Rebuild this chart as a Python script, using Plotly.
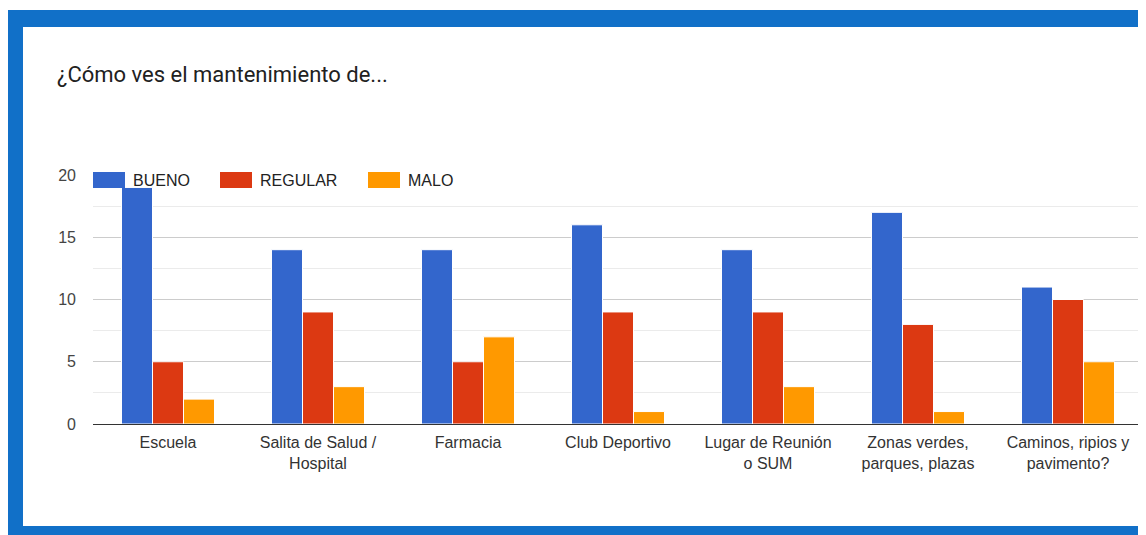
import plotly.graph_objects as go

categories = ["Escuela", "Salita de Salud /<br>Hospital", "Farmacia", "Club Deportivo",
              "Lugar de Reunión<br>o SUM", "Zonas verdes,<br>parques, plazas",
              "Caminos, ripios y<br>pavimento?"]
series_names = ["BUENO", "REGULAR", "MALO"]
bueno = [19, 14, 14, 16, 14, 17, 11]
regular = [5, 9, 5, 9, 9, 8, 10]
malo = [2, 3, 7, 1, 3, 1, 5]
colors = ["#3366cc", "#dc3912", "#ff9900"]
title_text = "¿Cómo ves el mantenimiento de..."
y_ticks = [0, 5, 10, 15, 20]

OFF = 8  # page body margin
W, H = 1146 - OFF, 535 - OFF
L, T = 93 - OFF, 175 - OFF
R = W - (1143 - OFF)
B = H - (424 - OFF)
PW, PH = W - L - R, H - T - B

def px(x):
    return (x - OFF - L) / PW

def py(y):
    return (H - B - (y - OFF)) / PH

fig = go.Figure()
for name, vals, col in zip(series_names, [bueno, regular, malo], colors):
    fig.add_trace(go.Bar(x=categories, y=vals, name=name,
                         marker=dict(color=col, line=dict(color="white", width=1)),
                         showlegend=False))

shapes = [
    dict(type="rect", xref="paper", yref="paper", x0=px(8), x1=px(1160), y0=py(10), y1=py(550),
         fillcolor="#1170c8", line=dict(width=0), layer="below"),
    dict(type="rect", xref="paper", yref="paper", x0=px(23), x1=px(1144), y0=py(27), y1=py(526),
         fillcolor="white", line=dict(width=0), layer="below"),
]
annotations = []
legend_x = [93, 220, 368]
for name, col, lx in zip(series_names, colors, legend_x):
    shapes.append(dict(type="rect", xref="paper", yref="paper", x0=px(lx), x1=px(lx + 32),
                       y0=py(188), y1=py(172), fillcolor=col, line=dict(width=0), layer="above"))
    annotations.append(dict(text=name, xref="paper", yref="paper", x=px(lx + 38), y=py(180),
                            xanchor="left", yanchor="middle", showarrow=False,
                            font=dict(family="Arial, Liberation Sans", size=16, color="#222222")))
annotations.append(dict(text=title_text, xref="paper", yref="paper", x=px(55), y=py(74),
                        xanchor="left", yanchor="middle", showarrow=False,
                        font=dict(family="Roboto", size=22, color="#212121")))

fig.update_layout(
    width=W, height=H, margin=dict(l=L, r=R, t=T, b=B, pad=0),
    paper_bgcolor="white", plot_bgcolor="rgba(0,0,0,0)",
    barmode="group", bargap=0.38, bargroupgap=0,
    shapes=shapes, annotations=annotations,
    font=dict(family="Arial, Liberation Sans", size=16, color="#444444"),
)
fig.update_xaxes(showgrid=False, ticks="", showline=True, linecolor="#333333", linewidth=1,
                 tickfont=dict(size=16, color="#333333"), ticklabelstandoff=4)
fig.update_yaxes(range=[0, 20], tickvals=y_ticks, showgrid=True, gridcolor="#cccccc", gridwidth=1,
                 zeroline=False, ticks="", ticklabelstandoff=16,
                 tickfont=dict(size=16, color="#444444"),
                 minor=dict(dtick=2.5, showgrid=True, gridcolor="#ebebeb", gridwidth=1))

fig.write_html("out.html")
